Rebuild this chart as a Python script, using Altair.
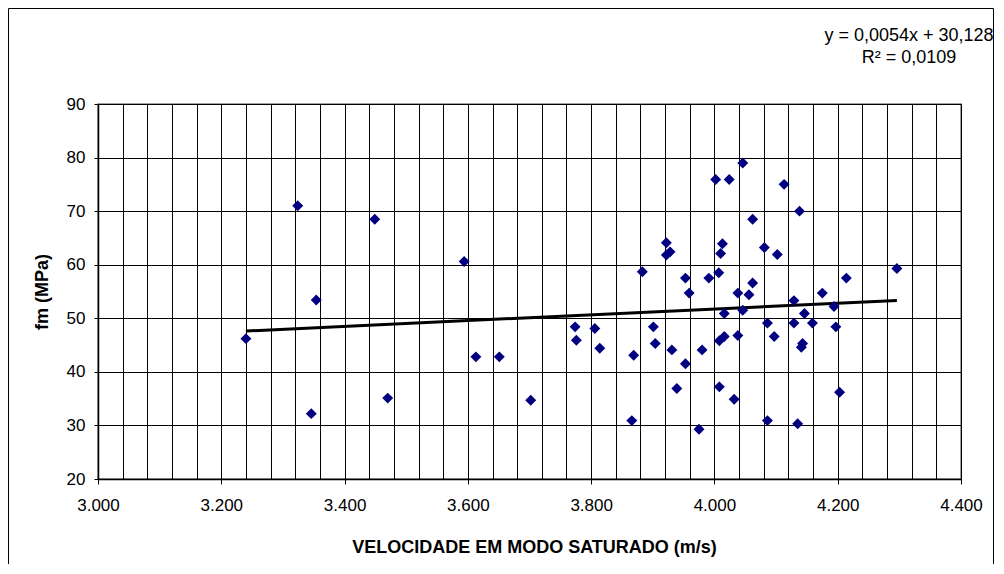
import altair as alt
import pandas as pd

# Data
velocidade = [3240, 3324, 3346, 3354, 3449, 3470, 3594, 3613, 3651, 3702,
              3774, 3776, 3806, 3814, 3866, 3869, 3883, 3901, 3904, 3922,
              3922, 3928, 3931, 3939, 3953, 3953, 3959, 3975, 3980, 3991,
              4002, 4007, 4008, 4008, 4010, 4013, 4016, 4016, 4024, 4032,
              4038, 4038, 4046, 4046, 4056, 4062, 4062, 4081, 4086, 4086,
              4097, 4102, 4113, 4129, 4129, 4135, 4138, 4141, 4143, 4146,
              4159, 4175, 4194, 4197, 4203, 4214, 4296]
fm = [46.2, 71.0, 32.2, 53.4, 68.5, 35.1, 60.6, 42.8, 42.8, 34.7,
      48.4, 45.9, 48.1, 44.4, 30.9, 43.1, 58.7, 48.4, 45.3, 64.1,
      61.8, 62.4, 44.1, 36.9, 57.5, 41.5, 54.7, 29.3, 44.1, 57.5,
      75.9, 58.5, 45.8, 37.2, 62.1, 63.9, 50.9, 46.6, 75.9, 34.9,
      54.7, 46.8, 79.0, 51.5, 54.4, 68.5, 56.6, 63.2, 49.1, 30.9,
      46.6, 61.9, 75.0, 53.3, 49.1, 30.3, 70.0, 44.6, 45.3, 50.9,
      49.1, 54.7, 52.2, 48.4, 36.2, 57.5, 59.3]

# Trend line as printed on the chart
slope = 0.0054
intercept = 30.128
eq_lines = ["y = 0,0054x + 30,128", "R\u00b2 = 0,0109"]

x_ticks = list(range(3000, 4401, 40))
y_ticks = list(range(20, 91, 10))

FONT = "Liberation Sans"

df = pd.DataFrame({"vel": velocidade, "fm": fm})
x_ends = [min(velocidade), max(velocidade)]
df_trend = pd.DataFrame({"vel": x_ends, "fm": [slope * v + intercept for v in x_ends]})

xscale = alt.Scale(domain=[3000, 4400], nice=False, zero=False)
yscale = alt.Scale(domain=[20, 90], nice=False, zero=False)

x_axis = alt.Axis(
    values=x_ticks,
    tickCount=200,
    labelExpr="datum.value % 200 === 0 ? replace(format(datum.value, ','), ',', '.') : ''",
    tickOpacity={"condition": {"test": "datum.value % 200 === 0", "value": 1}, "value": 0},
    labelOverlap=False,
    labelFlush=False,
    labelBound=False,
    tickSize=5,
    labelPadding=13,
    labelFontSize=17,
    labelFont=FONT,
    labelColor="black",
    grid=True,
    gridColor="black",
    gridWidth=1,
    domainColor="black",
    domainWidth=1.5,
    tickColor="black",
    title="VELOCIDADE EM MODO SATURADO (m/s)",
    titleFont=FONT,
    titleFontSize=18,
    titleFontWeight="bold",
    titleColor="black",
    titleX=436,
    titleY=73,
    titleBaseline="alphabetic",
    titleAlign="center",
)

y_axis = alt.Axis(
    values=y_ticks,
    tickCount=50,
    tickSize=4,
    labelPadding=9,
    labelFontSize=17,
    labelFont=FONT,
    labelColor="black",
    grid=True,
    gridColor="black",
    gridWidth=1,
    domainColor="black",
    domainWidth=1.5,
    tickColor="black",
    title="fm (MPa)",
    titleFont=FONT,
    titleFontSize=18,
    titleFontWeight="bold",
    titleColor="black",
    titleX=-56,
    titleY=187.5,
    titleAngle=270,
    titleBaseline="middle",
    titleAlign="center",
)

points = alt.Chart(df).mark_point(
    shape="diamond", filled=True, size=120, color="#000080", opacity=1
).encode(
    x=alt.X("vel:Q", scale=xscale, axis=x_axis),
    y=alt.Y("fm:Q", scale=yscale, axis=y_axis),
)

trend = alt.Chart(df_trend).mark_line(color="black", strokeWidth=3).encode(
    x=alt.X("vel:Q", scale=xscale),
    y=alt.Y("fm:Q", scale=yscale),
)

eq1 = alt.Chart(pd.DataFrame({"t": [eq_lines[0]]})).mark_text(
    font=FONT, fontSize=18, color="black", align="center", baseline="alphabetic"
).encode(text="t:N", x=alt.value(811), y=alt.value(-63))

eq2 = alt.Chart(pd.DataFrame({"t": [eq_lines[1]]})).mark_text(
    font=FONT, fontSize=18, color="black", align="center", baseline="alphabetic"
).encode(text="t:N", x=alt.value(811), y=alt.value(-41))

frame = alt.Chart(pd.DataFrame({"a": [0]})).mark_rect(
    fill=None, fillOpacity=0, stroke="black", strokeWidth=1
).encode(
    x=alt.value(-89.5), x2=alt.value(895.5), y=alt.value(-95.5), y2=alt.value(470)
)

chart = alt.layer(frame, trend, points, eq1, eq2).properties(
    width=863,
    height=375,
    autosize=alt.AutoSizeParams(type="none"),
    padding={"left": 90, "top": 96, "right": 33, "bottom": 85},
    background="white",
).configure_view(
    stroke="#808080", strokeWidth=1.5
)

chart.save("out.html", embed_options={"renderer": "svg", "actions": False})
